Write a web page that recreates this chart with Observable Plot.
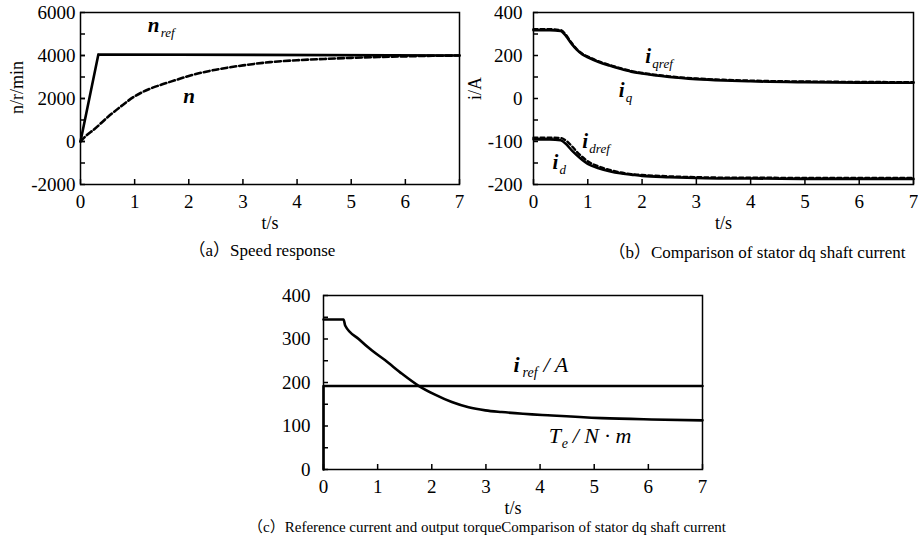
<!DOCTYPE html>
<html><head><meta charset="utf-8">
<script src="https://cdn.jsdelivr.net/npm/d3@7"></script>
<script src="https://cdn.jsdelivr.net/npm/@observablehq/plot@0.6"></script>
<style>
body{margin:0;background:#fff;}
#root{position:relative;width:918px;height:543px;overflow:hidden;font-family:"Liberation Serif","Times New Roman","Noto Sans CJK SC",serif;color:#000;}
.panel{position:absolute;}
.cap{position:absolute;font-size:17px;white-space:nowrap;text-align:center;width:600px;line-height:20px;}
</style></head><body><div id="root"></div>
<script>
// ---------- data ----------
// (a) speed response
const speedT   = [0, 0.1, 0.25, 0.5, 0.75, 1.0, 1.25, 1.5, 1.75, 2.0, 2.5, 3.0, 3.5, 4.0, 4.5, 5.0, 5.5, 6.0, 6.5, 7.0];
const speedN   = [0, 260, 560, 1130, 1640, 2100, 2420, 2650, 2850, 3050, 3340, 3540, 3690, 3780, 3840, 3890, 3930, 3960, 3985, 4000];
const speedRefT = [0, 0.33, 7];
const speedRefN = [0, 4050, 4000];
const yTicksA  = [6000, 4000, 2000, 0, -2000];
const yMinorA  = [5000, 4000, 3000, 2000, 1000, 0, -1000];

// (b) dq currents (axis labels below zero are printed at half value in the original)
const curT   = [0, 0.3, 0.5, 0.6, 0.7, 0.8, 0.9, 1.0, 1.2, 1.4, 1.6, 1.8, 2.0, 2.5, 3.0, 3.5, 4.0, 5.0, 6.0, 7.0];
const iq     = [318, 318, 314, 290, 255, 226, 205, 192, 170, 153, 138, 125, 116, 100, 90, 84, 80, 76, 74, 73];
const iqRef  = [322, 322, 318, 295, 259, 229, 208, 195, 173, 156, 141, 128, 119, 103, 93, 87, 83, 79, 77, 76];
const id     = [-95, -95, -97, -106, -120, -132, -143, -152, -162, -169, -174, -177, -180, -183, -185, -186, -186, -187, -187, -187];
const idRef  = [-91, -91, -92, -98, -110, -124, -136, -146, -158, -166, -172, -176, -178, -181, -183, -184, -184, -185, -185, -185];
const yTicksB = [400, 200, 0, -100, -200];
const yMinorB = [300, 100, -50, -150];

// (c) reference current and torque
const torqueT = [0, 0.37, 0.40, 0.65, 0.89, 1.14, 1.45, 1.75, 2.06, 2.37, 2.68, 2.99, 3.29, 4.22, 5.14, 6.06, 7.0];
const torque  = [345, 345, 331, 300, 274, 251, 220, 193, 172, 155, 143, 136, 132, 124, 118, 115, 113];
const irefT   = [0, 0, 7];
const iref    = [0, 192, 192];
const yTicksC = [400, 300, 200, 100, 0];
const yMinorC = [350, 250, 150, 50];

const xTicks = [0, 1, 2, 3, 4, 5, 6, 7];

// annotations (data coordinates)
const annA = [{t: 1.24, v: 5070, main: "n", sub: "ref"}, {t: 1.9, v: 1810, main: "n", sub: ""}];
const annB = [{t: 2.06, v: 163, main: "i", sub: "qref"}, {t: 1.57, v: 5, main: "i", sub: "q"},
              {t: 0.90, v: -116, main: "i", sub: "dref"}, {t: 0.35, v: -163, main: "i", sub: "d"}];
const annC1 = [{t: 3.51, v: 223, main: "i", sub: "ref", rest: "/ A"}];
const annC2 = [{t: 4.16, v: 62, main: "T", sub: "e", rest: "/ N \u00b7 m"}];

const titlesA = ["n/r/min", "t/s"];
const titlesB = ["i/A", "t/s"];
const titlesC = ["t/s"];
const captions = ["\uff08a\uff09Speed response", "\uff08b\uff09Comparison of stator dq shaft current",
  "\uff08c\uff09Reference current and output torqueComparison of stator dq shaft current"];

// ---------- helpers ----------
const serif = '"Liberation Serif","Times New Roman",serif';
const zip = (xs, ys) => xs.map((t, i) => ({t, v: ys[i]}));
const fmt = d => String(d);
const tfB = v => v < 0 ? 2 * v : v;

function axes(yMajorPos, yMajorLab, yMinorPos, padY) {
  return [
    Plot.axisY({ticks: yMinorPos.concat(yMajorPos), tickSize: -5, fill: "none", strokeWidth: 1.5, label: null}),
    Plot.axisY({ticks: yMajorPos, tickSize: 0, tickPadding: padY, fontSize: 19, fontFamily: serif,
      tickFormat: (d, i) => String(yMajorLab[i]), label: null}),
    Plot.axisX({ticks: xTicks, tickSize: -5, tickPadding: 15, strokeWidth: 1.5, fontSize: 19, fontFamily: serif,
      tickFormat: fmt, label: null}),
    Plot.frame({strokeWidth: 1.5})
  ];
}
function labels(ann, mainSize, subSize, subDx, mainWeight) {
  return [
    Plot.text(ann, {x: "t", y: "v", text: "main", textAnchor: "start", lineAnchor: "bottom",
      fontSize: mainSize, fontStyle: "italic", fontWeight: mainWeight, fontFamily: serif}),
    Plot.text(ann, {x: "t", y: "v", text: "sub", textAnchor: "start", lineAnchor: "bottom",
      dx: subDx, dy: 5, fontSize: subSize, fontStyle: "italic", fontFamily: serif})
  ];
}
function restLabel(ann, dx) {
  return Plot.text(ann, {x: "t", y: "v", text: "rest", textAnchor: "start", lineAnchor: "bottom",
    dx, fontSize: 22, fontStyle: "italic", fontFamily: serif});
}
function yTitle(title, dx, dy) {
  return Plot.text([title], {frameAnchor: "left", rotate: -90, textAnchor: "middle", lineAnchor: "middle",
    dx, dy, fontSize: 18, fontFamily: serif});
}
function xTitle(title) {
  return Plot.text([title], {frameAnchor: "bottom", textAnchor: "middle", lineAnchor: "bottom",
    dy: 44, fontSize: 18, fontFamily: serif});
}
const baseStyle = {fontFamily: serif, fontSize: "18px", background: "transparent", color: "#000", overflow: "visible"};

function mount(svg, left, top) {
  const d = document.createElement("div");
  d.className = "panel"; d.style.left = left + "px"; d.style.top = top + "px";
  d.appendChild(svg);
  document.getElementById("root").appendChild(d);
}
function caption(text, cx, top, size) {
  const d = document.createElement("div");
  d.className = "cap"; d.textContent = text;
  d.style.left = (cx - 300) + "px"; d.style.top = top + "px";
  if (size) d.style.fontSize = size + "px";
  document.getElementById("root").appendChild(d);
}

// ---------- (a) ----------
const plotA = Plot.plot({
  width: 470, height: 240, marginLeft: 80, marginRight: 11, marginTop: 12, marginBottom: 56,
  style: baseStyle,
  x: {domain: [0, 7]},
  y: {domain: [-2000, 6000]},
  marks: [
    ...axes(yTicksA, yTicksA, yMinorA, 5),
    Plot.line(zip(speedRefT, speedRefN), {x: "t", y: "v", strokeWidth: 2.6}),
    Plot.line(zip(speedT, speedN), {x: "t", y: "v", strokeWidth: 2.6, strokeDasharray: "6,3", curve: "monotone-x"}),
    ...labels(annA, 21, 13, 13, "bold"),
    yTitle(titlesA[0], -63, -11),
    xTitle(titlesA[1])
  ]
});
mount(plotA, 0, 0);

// ---------- (b) ----------
const plotB = Plot.plot({
  width: 458, height: 240, marginLeft: 73, marginRight: 5, marginTop: 12, marginBottom: 56,
  style: baseStyle,
  x: {domain: [0, 7]},
  y: {domain: [-400, 400], transform: tfB},
  marks: [
    ...axes(yTicksB.map(tfB), yTicksB, yMinorB.map(tfB), 11),
    Plot.line(zip(curT, iq), {x: "t", y: "v", strokeWidth: 2.6, curve: "monotone-x"}),
    Plot.line(zip(curT, iqRef), {x: "t", y: "v", strokeWidth: 2.4, strokeDasharray: "4,3", curve: "monotone-x"}),
    Plot.line(zip(curT, id), {x: "t", y: "v", strokeWidth: 2.6, curve: "monotone-x"}),
    Plot.line(zip(curT, idRef), {x: "t", y: "v", strokeWidth: 2.4, strokeDasharray: "4,3", curve: "monotone-x"}),
    ...labels(annB, 21, 13, 7, "bold"),
    yTitle(titlesB[0], -58, -10),
    xTitle(titlesB[1])
  ]
});
mount(plotB, 460, 0);

// ---------- (c) ----------
const plotC = Plot.plot({
  width: 480, height: 240, marginLeft: 83, marginRight: 18, marginTop: 15, marginBottom: 51,
  style: baseStyle,
  x: {domain: [0, 7]},
  y: {domain: [0, 400]},
  marks: [
    ...axes(yTicksC, yTicksC, yMinorC, 13),
    Plot.line(zip(irefT, iref), {x: "t", y: "v", strokeWidth: 2.6}),
    Plot.line(zip(torqueT, torque), {x: "t", y: "v", strokeWidth: 2.6, curve: "monotone-x"}),
    ...labels(annC1, 22, 14, 9, "bold"),
    restLabel(annC1, 30),
    ...labels(annC2, 22, 14, 13, "normal"),
    restLabel(annC2, 24),
    xTitle(titlesC[0])
  ]
});
mount(plotC, 240, 280);

caption(captions[0], 262, 241);
caption(captions[1], 757, 243);
caption(captions[2], 487, 517, 15);
</script></body></html>
